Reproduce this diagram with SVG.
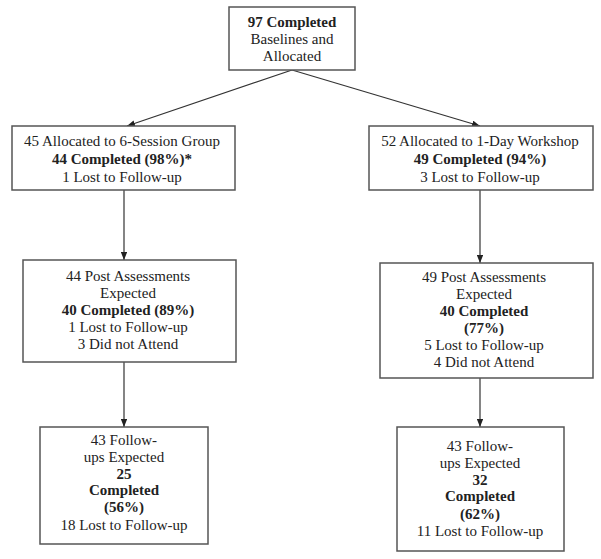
<svg xmlns="http://www.w3.org/2000/svg" width="601" height="559" viewBox="0 0 601 559">
<defs>
<style>
.box{fill:#fff;stroke:#555;stroke-width:1.5}
.t{font-family:"Liberation Serif","Times New Roman",serif;font-size:15px;fill:#222;text-anchor:middle}
.b{font-weight:bold}
.c{stroke:#333;stroke-width:1.2;fill:none;marker-end:url(#ah)}
</style>
<marker id="ah" viewBox="0 0 10 8" refX="10" refY="4" markerWidth="8" markerHeight="6.4" markerUnits="userSpaceOnUse" orient="auto">
<path d="M0,0 L10,4 L0,8 Z" fill="#222"/>
</marker>
</defs>
<rect width="601" height="559" fill="#fff"/>
<g id="connectors">
<line class="c" x1="292" y1="70" x2="127" y2="126"/>
<line class="c" x1="292" y1="70" x2="480" y2="126"/>
<line class="c" x1="124" y1="190" x2="124" y2="260"/>
<line class="c" x1="480" y1="190" x2="480" y2="263"/>
<line class="c" x1="124" y1="362" x2="124" y2="427"/>
<line class="c" x1="480" y1="378" x2="480" y2="427"/>
</g>
<g id="n_top">
<rect class="box" x="229" y="7" width="126" height="63"/>
<text class="t b" x="292" y="27">97 Completed</text>
<text class="t" x="292" y="44">Baselines and</text>
<text class="t" x="292" y="61">Allocated</text>
</g>
<g id="n_left1">
<rect class="box" x="12" y="126" width="223" height="64"/>
<text class="t" x="122" y="146">45 Allocated to 6-Session Group</text>
<text class="t b" x="122" y="164">44 Completed (98%)*</text>
<text class="t" x="122" y="182">1 Lost to Follow-up</text>
</g>
<g id="n_right1">
<rect class="box" x="369" y="126" width="224" height="64"/>
<text class="t" x="480" y="146">52 Allocated to 1-Day Workshop</text>
<text class="t b" x="480" y="164">49 Completed (94%)</text>
<text class="t" x="480" y="182">3 Lost to Follow-up</text>
</g>
<g id="n_left2">
<rect class="box" x="23" y="260" width="213" height="102"/>
<text class="t" x="128" y="281">44 Post Assessments</text>
<text class="t" x="128" y="298">Expected</text>
<text class="t b" x="128" y="315">40 Completed (89%)</text>
<text class="t" x="128" y="332">1 Lost to Follow-up</text>
<text class="t" x="128" y="349">3 Did not Attend</text>
</g>
<g id="n_right2">
<rect class="box" x="380" y="263" width="213" height="115"/>
<text class="t" x="484" y="282">49 Post Assessments</text>
<text class="t" x="484" y="299">Expected</text>
<text class="t b" x="484" y="316">40 Completed</text>
<text class="t b" x="484" y="333">(77%)</text>
<text class="t" x="484" y="350">5 Lost to Follow-up</text>
<text class="t" x="484" y="367">4 Did not Attend</text>
</g>
<g id="n_left3">
<rect class="box" x="40" y="427" width="168" height="117"/>
<text class="t" x="124" y="445">43 Follow-</text>
<text class="t" x="124" y="462">ups Expected</text>
<text class="t b" x="124" y="479">25</text>
<text class="t b" x="124" y="495">Completed</text>
<text class="t b" x="124" y="512">(56%)</text>
<text class="t" x="124" y="530">18 Lost to Follow-up</text>
</g>
<g id="n_right3">
<rect class="box" x="397" y="427" width="167" height="124"/>
<text class="t" x="480" y="451">43 Follow-</text>
<text class="t" x="480" y="468">ups Expected</text>
<text class="t b" x="480" y="485">32</text>
<text class="t b" x="480" y="501">Completed</text>
<text class="t b" x="480" y="519">(62%)</text>
<text class="t" x="480" y="536">11 Lost to Follow-up</text>
</g>
</svg>
